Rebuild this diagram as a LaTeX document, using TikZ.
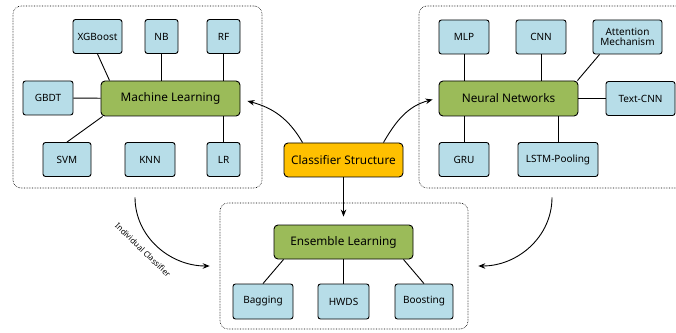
\documentclass[tikz,border=0pt]{standalone}
\usepackage{fontspec}
\setmainfont{Noto Sans}
\usetikzlibrary{arrows.meta}

\definecolor{leafblue}{HTML}{B7DDE8}
\definecolor{coregreen}{HTML}{9BBB59}
\definecolor{rootgold}{HTML}{FFC000}

\begin{document}
\begin{tikzpicture}[
  x=1pt, y=1pt,
  leaf/.style={draw, rectangle, rounded corners=2.5pt, line width=0.9pt, fill=leafblue, minimum width=50pt, minimum height=34pt, inner sep=1pt, align=center, font=\fontsize{10}{10.5}\selectfont},
  core/.style={draw, rectangle, rounded corners=4pt, line width=0.9pt, fill=coregreen, minimum width=139pt, minimum height=35pt, font=\fontsize{11.8}{13}\selectfont},
  root/.style={draw, rectangle, rounded corners=4pt, line width=0.9pt, fill=rootgold, minimum width=119pt, minimum height=34pt, font=\fontsize{11.8}{13}\selectfont},
  frame/.style={draw, densely dotted, rounded corners=8pt, line width=0.6pt, inner sep=0pt},
  link/.style={line width=0.9pt},
  flow/.style={-{Stealth[length=7pt,width=5.5pt]}, line width=0.9pt}
]
\useasboundingbox (0,0) rectangle (676,332);

% ================= FRAMES =================
\node[frame, minimum width=249pt, minimum height=182pt] (lbox) at (137.5,235) {};
\node[frame, minimum width=266pt, minimum height=182pt] (rbox) at (552,235) {};
\node[frame, minimum width=248pt, minimum height=126pt] (bbox) at (344,66) {};

% ================= MACHINE LEARNING =================
\node[core] (ml) at (170.5,233.5) {Machine Learning};
\node[leaf, minimum width=49pt] (xgb) at (97.5,295.5) {XGBoost};
\node[leaf, minimum width=33pt] (nb) at (161.5,295.5) {NB};
\node[leaf, minimum width=33pt] (rf) at (223.5,295.5) {RF};
\node[leaf] (gbdt) at (48,234) {GBDT};
\node[leaf, minimum width=48pt] (svm) at (67,172.5) {SVM};
\node[leaf] (knn) at (150,172.5) {KNN};
\node[leaf, minimum width=33pt] (lr) at (223.5,172.5) {LR};

% ================= NEURAL NETWORKS =================
\node[core] (nn) at (508.5,233.5) {Neural Networks};
\node[leaf] (mlp) at (464,295) {MLP};
\node[leaf] (cnn) at (541,295) {CNN};
\node[leaf, minimum width=69pt] (att) at (627.5,295) {Attention\\Mechanism};
\node[leaf, minimum width=69pt] (tcnn) at (640.5,233.5) {Text-CNN};
\node[leaf] (gru) at (464,172.5) {GRU};
\node[leaf, minimum width=80pt] (lstm) at (558,172.5) {LSTM-Pooling};

% ================= CENTRE + ENSEMBLE =================
\node[root] (cs) at (343.5,172) {Classifier Structure};
\node[core, minimum height=34pt] (el) at (343.5,90) {Ensemble Learning};
\node[leaf, minimum width=60pt, minimum height=35pt] (bag) at (263,30.5) {Bagging};
\node[leaf, minimum width=51pt, minimum height=35pt] (hwds) at (343.5,30.5) {HWDS};
\node[leaf, minimum width=58pt, minimum height=35pt] (boost) at (424,30.5) {Boosting};

\node[rotate=-44, font=\fontsize{8}{9}\selectfont] (tag) at (143,82) {Individual Classifier};

% ================== LINKS ==================
\draw[link] (xgb.south) -- ([xshift=9pt]ml.north west);
\draw[link] (nb.south) -- (nb.south |- ml.north);
\draw[link] (rf.south) -- (rf.south |- ml.north);
\draw[link] (gbdt) -- (ml);
\draw[link] (svm.north) -- ([xshift=2pt]ml.south west);
\draw[link] (lr.north) -- (lr.north |- ml.south);

\draw[link] (mlp.south) -- (mlp.south |- nn.north);
\draw[link] (cnn.south) -- (cnn.south |- nn.north);
\draw[link] ([xshift=7pt]att.south west) -- ([xshift=-1pt]nn.north east);
\draw[link] (tcnn) -- (nn);
\draw[link] (gru.north) -- (gru.north |- nn.south);
\draw[link] (lstm.north) -- (lstm.north |- nn.south);

\draw[link] (bag.north) -- ([xshift=10pt]el.south west);
\draw[link] (hwds) -- (el);
\draw[link] (boost.north) -- ([xshift=-10pt]el.south east);

% ================== FLOWS ==================
\draw[flow] ([xshift=19pt]cs.north west) to[out=120,in=-15] ([xshift=7pt,yshift=-2.5pt]ml.east);
\draw[flow] ([xshift=-20pt]cs.north east) to[out=60,in=195] ([xshift=-6pt,yshift=-1pt]nn.west);
\draw[flow, shorten >=8pt] (cs.south) -- (el.north);

% individual classifiers -> ensemble
\draw[flow] ([xshift=-2.5pt,yshift=-9pt]lbox.south) to[out=-90,in=180] ([xshift=-10pt]bbox.west);
\draw[flow] ([yshift=-9pt]rbox.south) to[out=-90,in=0] ([xshift=10pt]bbox.east);

\end{tikzpicture}
\end{document}
